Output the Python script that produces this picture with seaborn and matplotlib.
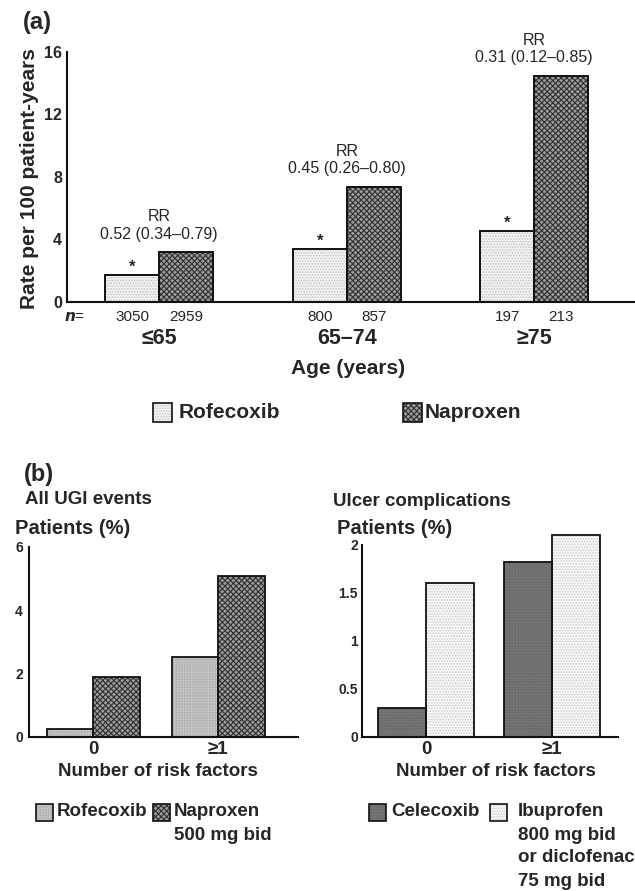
import matplotlib
matplotlib.use("Agg")
import numpy as np
import pandas as pd
import matplotlib.pyplot as plt
from matplotlib.patches import Rectangle
import seaborn as sns

# ---------------------------------------------------------
# data
# ---------------------------------------------------------
age_groups = ["≤65", "65–74", "≥75"]
rofecoxib_rate = [1.70, 3.37, 4.54]
naproxen_rate = [3.16, 7.36, 14.46]
rofecoxib_n = [3050, 800, 197]
naproxen_n = [2959, 857, 213]
rr_labels = ["0.52 (0.34–0.79)", "0.45 (0.26–0.80)", "0.31 (0.12–0.85)"]

risk_groups = ["0", "≥1"]
ugi_rofecoxib = [0.25, 2.52]
ugi_naproxen = [1.90, 5.10]
ulcer_celecoxib = [0.30, 1.82]
ulcer_nsaid = [1.60, 2.10]

# ---------------------------------------------------------
# style
# ---------------------------------------------------------
sns.set_style("white")
plt.rcParams["font.family"] = ["Liberation Sans", "DejaVu Sans"]
plt.rcParams["font.weight"] = "bold"
plt.rcParams["hatch.linewidth"] = 0.8

styles = {
    "rofecoxib_a": dict(face="#f3f3f3", hatch="......", hc="#c4c4c4"),
    "naproxen": dict(face="#9c9c9c", hatch="xxxxxx", hc="#303030"),
    "rofecoxib_b": dict(face="#c8c8c8", hatch="++++++", hc="#b6b6b6"),
    "celecoxib": dict(face="#7a7a7a", hatch="++++++", hc="#6c6c6c"),
    "nsaid": dict(face="#f8f8f8", hatch="......", hc="#cccccc"),
}

W, H = 635, 891
fig = plt.figure(figsize=(W / 100, H / 100), dpi=100)


def fx(px):
    return px / W


def fy(py):
    return 1 - py / H


def axes_px(left, right, top, bottom):
    return fig.add_axes([fx(left), fy(bottom), (right - left) / W, (bottom - top) / H])


def bar_panel(ax, groups, series, names, keys, width, lw):
    df = pd.concat([pd.DataFrame({"group": groups, "value": vals, "drug": name})
                    for vals, name in zip(series, names)])
    palette = {n: styles[k]["face"] for n, k in zip(names, keys)}
    sns.barplot(data=df, x="group", y="value", hue="drug", order=groups,
                hue_order=names, palette=palette, saturation=1, width=width,
                linewidth=0, errorbar=None, legend=False, ax=ax)
    for cont, key in zip(ax.containers, keys):
        st = styles[key]
        for p in cont.patches:
            p.set_hatch(st["hatch"])
            p.set_edgecolor(st["hc"])
            p.set_linewidth(0)
            p.set_clip_on(False)
            ax.add_patch(Rectangle(p.get_xy(), p.get_width(), p.get_height(),
                                   fill=False, edgecolor="#111111", lw=lw,
                                   clip_on=False, zorder=3))
    sns.despine(ax=ax)
    for s in ["left", "bottom"]:
        ax.spines[s].set_linewidth(1.5)
        ax.spines[s].set_color("#111111")
    ax.set_ylabel("")


def legend_item(x, y, key, lines, fs, size, gap, step=23):
    st = styles[key]
    fig.add_artist(Rectangle((fx(x), fy(y + size / 2)), size / W, size / H,
                             transform=fig.transFigure, facecolor=st["face"],
                             edgecolor=st["hc"], hatch=st["hatch"], lw=0))
    fig.add_artist(Rectangle((fx(x), fy(y + size / 2)), size / W, size / H,
                             transform=fig.transFigure, fill=False,
                             edgecolor="#111111", lw=1.2))
    for i, line in enumerate(lines):
        fig.text(fx(x + size + gap), fy(y + i * step), line, fontsize=fs,
                 fontweight="bold", ha="left", va="center")


# =========================================================
# (a) rate by age
# =========================================================
ax = axes_px(67, 635, 51.7, 301.7)
bar_panel(ax, age_groups, [rofecoxib_rate, naproxen_rate],
          ["Rofecoxib", "Naproxen"], ["rofecoxib_a", "naproxen"], 0.576, 1.4)
ax.set_ylim(0, 16)
ax.set_yticks([0, 4, 8, 12, 16])
ax.set_xlim(-0.492, 2.537)
ax.tick_params(axis="y", direction="in", length=5, width=1.3, labelsize=11.5, pad=3.5)
ax.tick_params(axis="x", length=0, labelsize=15.5, pad=19)
ax.set_xlabel("Age (years)", fontsize=15, fontweight="bold")
ax.xaxis.set_label_coords(0.495, -0.228)
ax.set_ylabel("Rate per 100 patient-years", fontsize=15, fontweight="bold")
ax.yaxis.set_label_coords(-0.05, 0.493)

for i, (top, txt) in enumerate(zip(naproxen_rate, rr_labels)):
    ax.annotate(txt, xy=(i, top), xytext=(0, 13), textcoords="offset points",
                ha="center", va="center", fontsize=11.5, fontweight="normal")
    ax.annotate("RR", xy=(i, top), xytext=(0, 25.5), textcoords="offset points",
                ha="center", va="center", fontsize=11.5, fontweight="normal")

for p in ax.containers[0].patches:
    ax.annotate("*", xy=(p.get_x() + p.get_width() / 2, p.get_height()),
                xytext=(0, 2.4), textcoords="offset points", ha="center",
                va="baseline", fontsize=12, fontweight="bold")

for cont, counts in zip(ax.containers, [rofecoxib_n, naproxen_n]):
    for p, n in zip(cont.patches, counts):
        ax.annotate(str(n), xy=(p.get_x() + p.get_width() / 2, 0),
                    xycoords=("data", "axes fraction"), xytext=(0, -11),
                    textcoords="offset points", ha="center", va="center",
                    fontsize=11, fontweight="normal")
ax.annotate("$n$=", xy=(0.014, 0), xycoords="axes fraction", xytext=(0, -11),
            textcoords="offset points", ha="center", va="center",
            fontsize=11, fontweight="normal")

fig.text(fx(23), fy(23), "(a)", fontsize=17, fontweight="bold", ha="left", va="center")
legend_item(152.5, 412, "rofecoxib_a", ["Rofecoxib"], 15, 19, 7)
legend_item(403, 412, "naproxen", ["Naproxen"], 15, 19, 3)

# =========================================================
# (b) left: all UGI events
# =========================================================
fig.text(fx(24), fy(475), "(b)", fontsize=17, fontweight="bold", ha="left", va="center")

axl = axes_px(29, 298, 547, 737)
bar_panel(axl, risk_groups, [ugi_rofecoxib, ugi_naproxen],
          ["Rofecoxib", "Naproxen 500 mg bid"], ["rofecoxib_b", "naproxen"], 0.744, 1.3)
axl.set_ylim(0, 6)
axl.set_yticks([0, 2, 4, 6])
axl.set_xlim(-0.512, 1.64)
axl.tick_params(axis="y", direction="in", length=7, width=1.3, labelsize=10, pad=4.5)
axl.tick_params(axis="x", length=0, labelsize=13.5, pad=3.2)
axl.set_xlabel("Number of risk factors", fontsize=13.5, fontweight="bold")
axl.xaxis.set_label_coords(0.48, -0.139)
fig.text(fx(25), fy(500), "All UGI events", fontsize=13.5, fontweight="bold", ha="left", va="center")
fig.text(fx(15), fy(529), "Patients (%)", fontsize=14.5, fontweight="bold", ha="left", va="center")

legend_item(36, 812, "rofecoxib_b", ["Rofecoxib"], 13.5, 17, 4)
legend_item(153, 812, "naproxen", ["Naproxen", "500 mg bid"], 13.5, 17, 4)

# =========================================================
# (b) right: ulcer complications
# =========================================================
axr = axes_px(362, 618, 545, 737)
bar_panel(axr, risk_groups, [ulcer_celecoxib, ulcer_nsaid],
          ["Celecoxib", "Ibuprofen / diclofenac"], ["celecoxib", "nsaid"], 0.762, 1.3)
axr.set_ylim(0, 2)
axr.set_yticks([0, 0.5, 1, 1.5, 2])
axr.set_yticklabels(["0", "0.5", "1", "1.5", "2"])
axr.set_xlim(-0.508, 1.524)
axr.tick_params(axis="y", direction="in", length=7, width=1.3, labelsize=10, pad=3)
axr.tick_params(axis="x", length=0, labelsize=13.5, pad=3.2)
axr.set_xlabel("Number of risk factors", fontsize=13.5, fontweight="bold")
axr.xaxis.set_label_coords(0.525, -0.138)
fig.text(fx(333), fy(501), "Ulcer complications", fontsize=13.5, fontweight="bold", ha="left", va="center")
fig.text(fx(337), fy(529), "Patients (%)", fontsize=14.5, fontweight="bold", ha="left", va="center")

legend_item(369, 812, "celecoxib", ["Celecoxib"], 13.5, 17, 5)
legend_item(490, 812, "nsaid", ["Ibuprofen", "800 mg bid", "or diclofenac", "75 mg bid"], 13.5, 17, 11)

fig.savefig("out.png", dpi=100)
